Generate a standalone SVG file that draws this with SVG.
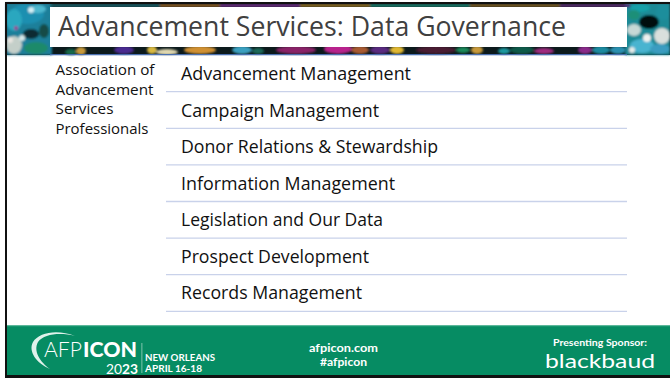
<svg xmlns="http://www.w3.org/2000/svg" width="670" height="378" viewBox="0 0 670 378">
<style>
text{font-family:"Open Sans","Liberation Sans",sans-serif}
.item{font-size:17.5px;fill:#111}
.side{font-size:14.4px;fill:#111}
.rule{stroke:#c9d2ea;stroke-width:1.3}
.ft{fill:#fff;font-family:Lato,"Liberation Sans",sans-serif;font-weight:700}
</style>
<defs>
<filter id="soft" x="-5%" y="-5%" width="110%" height="110%"><feGaussianBlur stdDeviation="1"/></filter>
<filter id="s2" x="-5%" y="-20%" width="110%" height="140%"><feGaussianBlur stdDeviation="0.8"/></filter>
</defs>
<rect width="670" height="378" fill="#fff"/>
<g id="banner">
<rect x="6" y="3" width="664" height="52" fill="#0c1a1c"/>
<g filter="url(#soft)">
<rect x="6" y="3" width="46" height="52" fill="#1a7f9a"/>
<rect x="625" y="3" width="45" height="52" fill="#1c8a96"/>
<ellipse cx="27" cy="14" rx="17" ry="10" fill="#1b8fb0"/>
<ellipse cx="14" cy="20" rx="8" ry="11" fill="#2ba7bf"/>
<ellipse cx="38" cy="9" rx="8" ry="4" fill="#4db8cf"/>
<ellipse cx="31" cy="34" rx="8" ry="5" fill="#0c2a30"/>
<ellipse cx="14" cy="45" rx="8" ry="9" fill="#c4cfc9"/>
<ellipse cx="36" cy="48" rx="12" ry="6" fill="#1d8a6a"/>
<ellipse cx="44" cy="31" rx="5" ry="7" fill="#124c46"/>
<circle cx="31" cy="10" r="3" fill="#d5f0f5"/>
<circle cx="16" cy="28" r="2" fill="#a03a90"/>
<circle cx="10" cy="40" r="3" fill="#e8e5e0"/>
<circle cx="22" cy="38" r="3" fill="#d8e8e8"/>
<ellipse cx="640" cy="8" rx="10" ry="4" fill="#12a0a8"/>
<ellipse cx="634" cy="15" rx="6" ry="5" fill="#1f8f78"/>
<ellipse cx="649" cy="22" rx="10" ry="7" fill="#05080a"/>
<ellipse cx="663" cy="12" rx="7" ry="8" fill="#1e8e9c"/>
<ellipse cx="634" cy="30" rx="7" ry="6" fill="#c8d8d6"/>
<ellipse cx="642" cy="46" rx="12" ry="7" fill="#4ab4d0"/>
<ellipse cx="662" cy="36" rx="8" ry="8" fill="#d9dfdc"/>
<ellipse cx="660" cy="49" rx="10" ry="5" fill="#3a9cc0"/>
<circle cx="647" cy="38" r="4" fill="#eef2f0"/>
<circle cx="632" cy="50" r="3" fill="#e6ecea"/>
</g>
<g filter="url(#s2)">
<rect x="50" y="4" width="110" height="3" fill="#1c5d66"/>
<rect x="160" y="4" width="60" height="3" fill="#8a5a20"/>
<rect x="220" y="4" width="80" height="3" fill="#6c2a80"/>
<rect x="300" y="4" width="70" height="3" fill="#8c6a20"/>
<rect x="370" y="4" width="100" height="3" fill="#1a7a6a"/>
<rect x="470" y="4" width="90" height="3" fill="#7a5a20"/>
<rect x="560" y="4" width="70" height="3" fill="#5a2a70"/>
<ellipse cx="71" cy="52" rx="6" ry="3" fill="#186a4a"/>
<ellipse cx="81" cy="51" rx="5" ry="4" fill="#c89a3a"/>
<ellipse cx="124" cy="50" rx="10" ry="4" fill="#4a2a90"/>
<ellipse cx="152" cy="50" rx="5" ry="4" fill="#d8b840"/>
<ellipse cx="167" cy="52" rx="11" ry="3" fill="#e0d8b0"/>
<ellipse cx="200" cy="50" rx="16" ry="4" fill="#d09030"/>
<ellipse cx="242" cy="50" rx="10" ry="4" fill="#3aa0c0"/>
<ellipse cx="258" cy="51" rx="6" ry="3" fill="#1a6a5a"/>
<ellipse cx="296" cy="50" rx="20" ry="4" fill="#8a2468"/>
<ellipse cx="338" cy="49" rx="14" ry="5" fill="#b8248c"/>
<ellipse cx="360" cy="50" rx="9" ry="4" fill="#a85a30"/>
<ellipse cx="380" cy="50" rx="10" ry="4" fill="#5a2a80"/>
<ellipse cx="397" cy="50" rx="7" ry="4" fill="#e0b830"/>
<ellipse cx="436" cy="50" rx="20" ry="4" fill="#4a1a30"/>
<ellipse cx="463" cy="50" rx="7" ry="3" fill="#1a8a5a"/>
<ellipse cx="477" cy="50" rx="6" ry="4" fill="#c89a3a"/>
<ellipse cx="504" cy="51" rx="6" ry="3" fill="#1a9aa0"/>
<ellipse cx="522" cy="50" rx="12" ry="4" fill="#0e5a4a"/>
<ellipse cx="544" cy="51" rx="10" ry="3" fill="#a02a80"/>
<ellipse cx="585" cy="50" rx="7" ry="4" fill="#8a2a8a"/>
<ellipse cx="601" cy="50" rx="9" ry="4" fill="#1a8aa0"/>
<ellipse cx="618" cy="50" rx="8" ry="4" fill="#2a90b0"/>
</g>
<rect x="50" y="7" width="577" height="40" fill="#fff"/>
<rect x="50" y="54" width="577" height="1.3" fill="#4a70b0"/>
</g>
<g id="title"><text x="58" y="36" font-size="27.5" fill="#404040" textLength="508" lengthAdjust="spacingAndGlyphs">Advancement Services: Data Governance</text></g>
<g id="side"><text class="side" x="55.5" y="75" textLength="99" lengthAdjust="spacingAndGlyphs">Association of</text><text class="side" x="55.5" y="95" textLength="98" lengthAdjust="spacingAndGlyphs">Advancement</text><text class="side" x="55.5" y="114" textLength="58" lengthAdjust="spacingAndGlyphs">Services</text><text class="side" x="55.5" y="134" textLength="93" lengthAdjust="spacingAndGlyphs">Professionals</text></g>
<g id="connectors">
<line class="rule" x1="166" y1="91.7" x2="627" y2="91.7"/>
<line class="rule" x1="166" y1="128.3" x2="627" y2="128.3"/>
<line class="rule" x1="166" y1="164.9" x2="627" y2="164.9"/>
<line class="rule" x1="166" y1="201.5" x2="627" y2="201.5"/>
<line class="rule" x1="166" y1="238.1" x2="627" y2="238.1"/>
<line class="rule" x1="166" y1="274.7" x2="627" y2="274.7"/>
<line class="rule" x1="166" y1="311.3" x2="627" y2="311.3"/>
</g>
<g id="item1"><text class="item" x="181" y="80" textLength="230" lengthAdjust="spacingAndGlyphs">Advancement Management</text></g>
<g id="item2"><text class="item" x="181" y="117" textLength="198" lengthAdjust="spacingAndGlyphs">Campaign Management</text></g>
<g id="item3"><text class="item" x="181" y="153" textLength="257" lengthAdjust="spacingAndGlyphs">Donor Relations &amp; Stewardship</text></g>
<g id="item4"><text class="item" x="181" y="190" textLength="214" lengthAdjust="spacingAndGlyphs">Information Management</text></g>
<g id="item5"><text class="item" x="181" y="226" textLength="202" lengthAdjust="spacingAndGlyphs">Legislation and Our Data</text></g>
<g id="item6"><text class="item" x="181" y="263" textLength="188" lengthAdjust="spacingAndGlyphs">Prospect Development</text></g>
<g id="item7"><text class="item" x="181" y="299" textLength="181" lengthAdjust="spacingAndGlyphs">Records Management</text></g>
<g id="footer">
<rect x="6" y="325" width="664" height="50" fill="#068c63"/>
<rect x="6" y="325" width="664" height="1.2" fill="#5cb79a"/>
<path d="M50 369C36 363 28 351 33 342C39 332 58 329 75 336C60 332 44 334 38 342C33 351 40 362 50 369Z" fill="#dff1ea"/>
<text class="ft" x="44" y="357" font-size="21" style="font-weight:300" textLength="38" lengthAdjust="spacingAndGlyphs">AFP</text>
<text class="ft" x="83" y="357" font-size="21" style="font-weight:900" textLength="54" lengthAdjust="spacingAndGlyphs">ICON</text>
<text class="ft" x="106" y="373.5" font-size="13" style="font-weight:400" textLength="32" lengthAdjust="spacingAndGlyphs">20<tspan font-weight="700">23</tspan></text>
<rect x="141.5" y="343" width="0.8" height="30" fill="#9bd2bd"/>
<text class="ft" x="145" y="361" font-size="9" textLength="70" lengthAdjust="spacingAndGlyphs">NEW ORLEANS</text>
<text class="ft" x="145" y="372" font-size="9" textLength="57" lengthAdjust="spacingAndGlyphs">APRIL 16-18</text>
<text class="ft" x="309" y="352" font-size="11.5" textLength="69" lengthAdjust="spacingAndGlyphs">afpicon.com</text>
<text class="ft" x="320" y="366" font-size="11.5" textLength="47" lengthAdjust="spacingAndGlyphs">#afpicon</text>
<text class="ft" x="553" y="346" font-size="9" textLength="94" lengthAdjust="spacingAndGlyphs">Presenting Sponsor:</text>
<text x="545" y="367.5" font-size="20" fill="#fff" style="font-family:Lato,sans-serif;font-weight:400" textLength="110" lengthAdjust="spacingAndGlyphs">blackbaud</text>
</g>
<g id="frame">
<rect x="5" y="2" width="2" height="376" fill="#111"/>
<rect x="5" y="2" width="665" height="2" fill="#111"/>
<rect x="5" y="375" width="665" height="3" fill="#111"/>
</g>
</svg>
